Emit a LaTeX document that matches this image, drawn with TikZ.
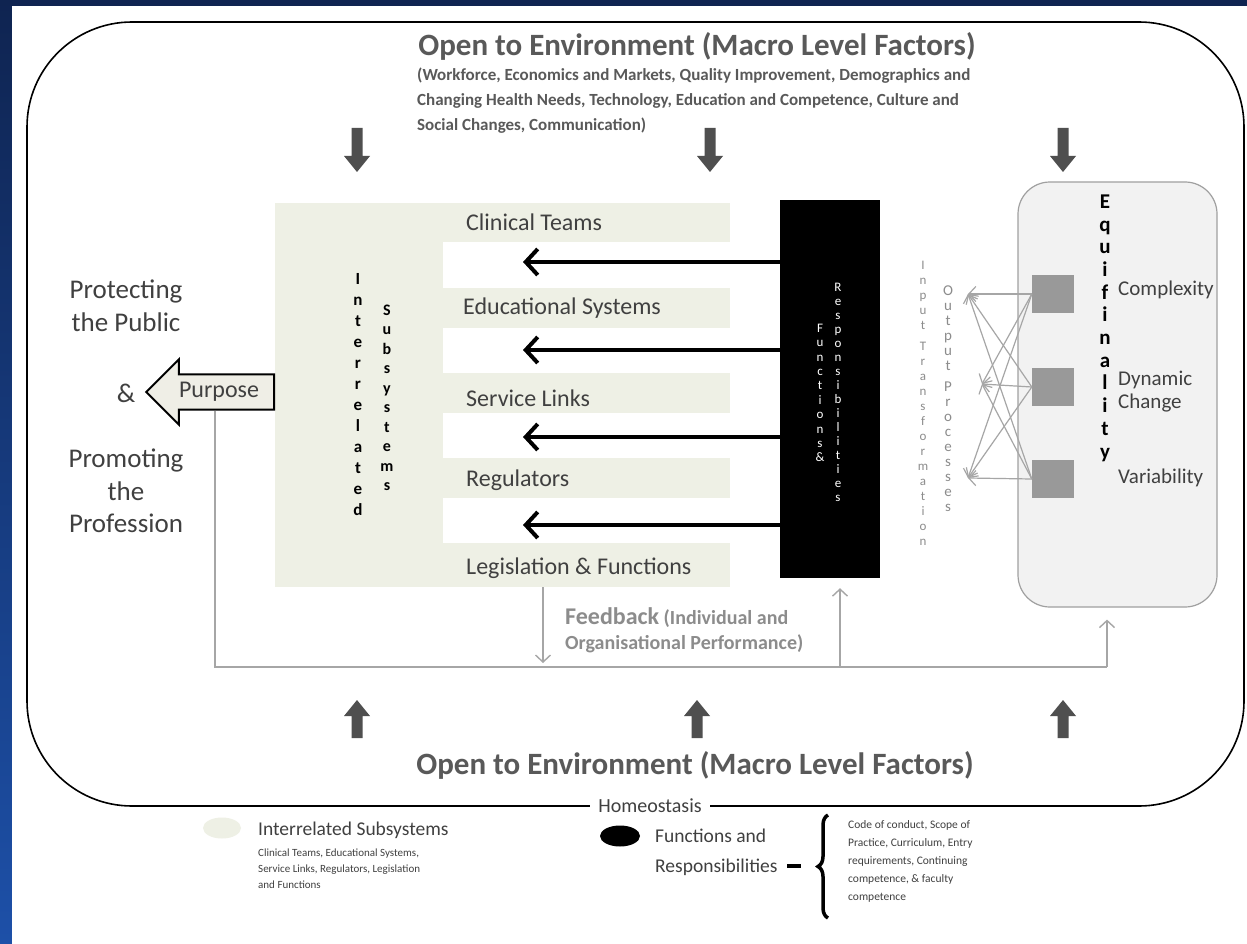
\documentclass[tikz,border=0pt]{standalone}
\usepackage{fontspec}
\setmainfont{Carlito}
\usetikzlibrary{arrows.meta,shapes.arrows,shapes.geometric,decorations.pathreplacing}

\definecolor{navy}{HTML}{0F2451}
\definecolor{navylight}{HTML}{1D50A8}
\definecolor{subsys}{HTML}{EEF0E5}
\definecolor{txtgray}{HTML}{404040}
\definecolor{ttlgray}{HTML}{595959}
\definecolor{fbgray}{HTML}{8C8C8C}
\definecolor{linegray}{HTML}{A6A6A6}
\definecolor{fatgray}{HTML}{4F4F4F}
\definecolor{sqgray}{HTML}{999999}
\definecolor{eqfill}{HTML}{F2F2F2}
\definecolor{eqdraw}{HTML}{A0A0A0}
\definecolor{purposefill}{HTML}{EFEEE6}

\newcommand{\fsz}[2]{\fontsize{#1}{#2}\selectfont}

\tikzset{
  macrotitle/.style={font=\fsz{31}{36}\bfseries, text=ttlgray, inner sep=0pt},
  macrolist/.style={font=\fsz{17}{25}\bfseries, text=ttlgray, align=left, anchor=west, inner sep=0pt},
  fatdown/.pic={\fill[fatgray] (-5.5,0) -- (5.5,0) -- (5.5,28) -- (13,28) -- (0,44)
    -- (-13,28) -- (-5.5,28) -- cycle;},
  fatup/.pic={\fill[fatgray] (0,0) -- (13,16) -- (5.5,16) -- (5.5,38) -- (-5.5,38)
    -- (-5.5,16) -- (-13,16) -- cycle;},
  sublabel/.style={font=\fsz{24}{28}, text=txtgray, anchor=west, inner sep=0pt},
  stackbold/.style={font=\fsz{17}{21}\bfseries, align=center, inner sep=0pt},
  blackarrow/.style={line width=4pt, -{Straight Barb[length=12pt,width=26pt]}},
  grayarrow/.style={draw=linegray, line width=1.2pt, -{Straight Barb[length=7pt,width=15pt]}},
  fbline/.style={draw=linegray, line width=1.4pt},
  fbarrow/.style={fbline, -{Straight Barb[length=7pt,width=15pt]}},
  goaltext/.style={font=\fsz{27}{32.5}, text=txtgray, align=center, inner sep=0pt},
  eqlabel/.style={font=\fsz{21}{23}, text=txtgray, align=left, anchor=west, inner sep=0pt},
  square/.style={fill=sqgray, minimum width=42pt, minimum height=38pt, inner sep=0pt},
  legbig/.style={font=\fsz{19.5}{30}, text=txtgray, align=left, inner sep=0pt},
  legsmall/.style={font=\fsz{11}{16}, text=txtgray, align=left, inner sep=0pt}
}

\begin{document}
\begin{tikzpicture}[x=1pt,y=-1pt]
\useasboundingbox (0,0) rectangle (1247,944);
\shade[top color=navy, bottom color=navylight] (0,0) rectangle (1247,944);
\fill[white] (12,6) rectangle (1247,944);

\draw[line width=1.6pt, rounded corners=105pt] (27,22) rectangle (1244,806);
\node[fill=white, font=\fsz{20}{24}, text=txtgray, inner xsep=8pt] (homeo) at (650,806) {Homeostasis};

\node[macrotitle] (toptitle) at (697,46) {Open to Environment (Macro Level Factors)};
\node[macrolist] (toplist) at (417,101) {(Workforce, Economics and Markets, Quality Improvement, Demographics and\\Changing Health Needs, Technology, Education and Competence, Culture and\\Social Changes, Communication)};
\node[macrotitle] (bottitle) at (695,765) {Open to Environment (Macro Level Factors)};

\pic (down1) at (357,128) {fatdown};
\pic (down2) at (710,128) {fatdown};
\pic (down3) at (1063,128) {fatdown};
\pic (up1) at (357,700) {fatup};
\pic (up2) at (697,700) {fatup};
\pic (up3) at (1063,700) {fatup};

\node[fill=subsys, minimum width=455pt, minimum height=384pt, inner sep=0pt] (subs) at (502.5,395) {};
\fill[white] (443,242) rectangle (730,288);
\fill[white] (443,328) rectangle (730,373);
\fill[white] (443,413) rectangle (730,458);
\fill[white] (443,498) rectangle (730,543);
\node[sublabel] (clin) at (466,222) {Clinical Teams};
\node[sublabel] (educ) at (463,308) {Educational Systems};
\node[sublabel] (serv) at (466,398) {Service Links};
\node[sublabel] (regu) at (466,480) {Regulators};
\node[sublabel] (legi) at (466,568) {Legislation \& Functions};
\node[stackbold] (inter) at (358,395) {I\\n\\t\\e\\r\\r\\e\\l\\a\\t\\e\\d};
\node[stackbold, font=\fsz{16}{19.5}\bfseries] (subsy) at (387,398) {S\\u\\b\\s\\y\\s\\t\\e\\m\\s};

\node[fill=black, minimum width=100pt, minimum height=378pt, inner sep=0pt] (fr) at (830,389) {};
\node[stackbold, font=\fsz{13}{14}, text=white] (resp) at (838,392) {R\\e\\s\\p\\o\\n\\s\\i\\b\\i\\l\\i\\t\\i\\e\\s};
\node[stackbold, font=\fsz{13}{14.4}, text=white] (func) at (820,393) {F\\u\\n\\c\\t\\i\\o\\n\\s\\\&};

\coordinate (t1) at (523,262);
\coordinate (t2) at (523,350);
\coordinate (t3) at (523,437);
\coordinate (t4) at (523,525);
\draw[blackarrow] (fr.west |- t1) -- (t1);
\draw[blackarrow] (fr.west |- t2) -- (t2);
\draw[blackarrow] (fr.west |- t3) -- (t3);
\draw[blackarrow] (fr.west |- t4) -- (t4);

\node[single arrow, draw=black, line width=2pt, fill=purposefill, inner xsep=4pt, inner ysep=7pt,
  single arrow head extend=15pt, minimum height=128pt, shape border rotate=180,
  font=\fsz{24}{28}, text=txtgray] (purpose) at (219,392) {Purpose};
\node[goaltext] (protect) at (126,306) {Protecting\\the Public};
\node[goaltext] (amp) at (126,393) {\&};
\node[goaltext] (promote) at (126,491) {Promoting\\the\\Profession};

\node[fill=eqfill, draw=eqdraw, line width=1.2pt, rounded corners=32pt, minimum width=199pt, minimum height=425pt] (eq) at (1117.5,394.5) {};
\node[stackbold, font=\fsz{21}{22.7}\bfseries] (equi) at (1105,328) {E\\q\\u\\i\\f\\i\\n\\a\\l\\i\\t\\y};
\node[square] (sq1) at (1053,294) {};
\node[square] (sq2) at (1053,387) {};
\node[square] (sq3) at (1053,479) {};
\node[eqlabel] (cplx) at (1118,290) {Complexity};
\node[eqlabel] (dyn) at (1118,392) {Dynamic\\Change};
\node[eqlabel] (vari) at (1118,478) {Variability};

\node[stackbold, font=\fsz{13}{15}, text=fbgray] (input) at (923,403) {I\\n\\p\\u\\t\\[6pt]T\\r\\a\\n\\s\\f\\o\\r\\m\\a\\t\\i\\o\\n};
\node[stackbold, font=\fsz{15}{15}, text=fbgray] (output) at (948,399) {O\\u\\t\\p\\u\\t\\[6pt]P\\r\\o\\c\\e\\s\\s\\e\\s};

\coordinate (o1) at (968,294);
\coordinate (o2) at (982,384);
\coordinate (o3) at (968,478);
\foreach \s in {1,2,3}
  \foreach \t in {1,2,3}
    \draw[grayarrow] (sq\s.west) -- (o\t);

\coordinate (fbl) at (215,667);
\coordinate (fbr) at (1107,667);
\coordinate (fbup) at (840,667);
\coordinate (fbdn) at (543,667);
\draw[fbline] (purpose.south -| fbl) -- (fbl) -- (fbr);
\draw[fbarrow, shorten >=12pt] (fbr) -- (eq.south -| fbr);
\draw[fbarrow, shorten >=10pt] (fbup) -- (fbup |- fr.south);
\draw[fbarrow, shorten >=4pt] (fbdn |- subs.south) -- (fbdn);
\node[font=\fsz{20}{25}\bfseries, text=fbgray, align=left, anchor=west, inner sep=0pt] (feedback) at (565,630)
  {{\fontsize{24}{25}\selectfont Feedback} (Individual and\\Organisational Performance)};

\node[ellipse, fill=subsys, minimum width=38pt, minimum height=21pt, inner sep=0pt] (leg1) at (222,828) {};
\node[legbig, anchor=west] (leg1t) at (258,830) {Interrelated Subsystems};
\node[legsmall, anchor=north west] (leg1s) at (258,849) {Clinical Teams, Educational Systems,\\Service Links, Regulators, Legislation\\and Functions};
\node[ellipse, fill=black, minimum width=40pt, minimum height=21pt, inner sep=0pt] (leg2) at (620,836) {};
\node[legbig, anchor=west] (leg2t) at (655,852) {Functions and\\Responsibilities};
\coordinate (dash) at (787,866);
\coordinate (brace) at (828,866);
\draw[line width=4pt] (dash) -- ++(14,0);
\draw[decorate, decoration={brace, amplitude=10pt}, line width=3.5pt] (brace |- 0,918) -- (brace |- 0,815);
\node[legsmall, font=\fsz{11.5}{18}, anchor=west] (leg2s) at (848,861) {Code of conduct, Scope of\\Practice, Curriculum, Entry\\requirements, Continuing\\competence, \& faculty\\competence};
\end{tikzpicture}
\end{document}
